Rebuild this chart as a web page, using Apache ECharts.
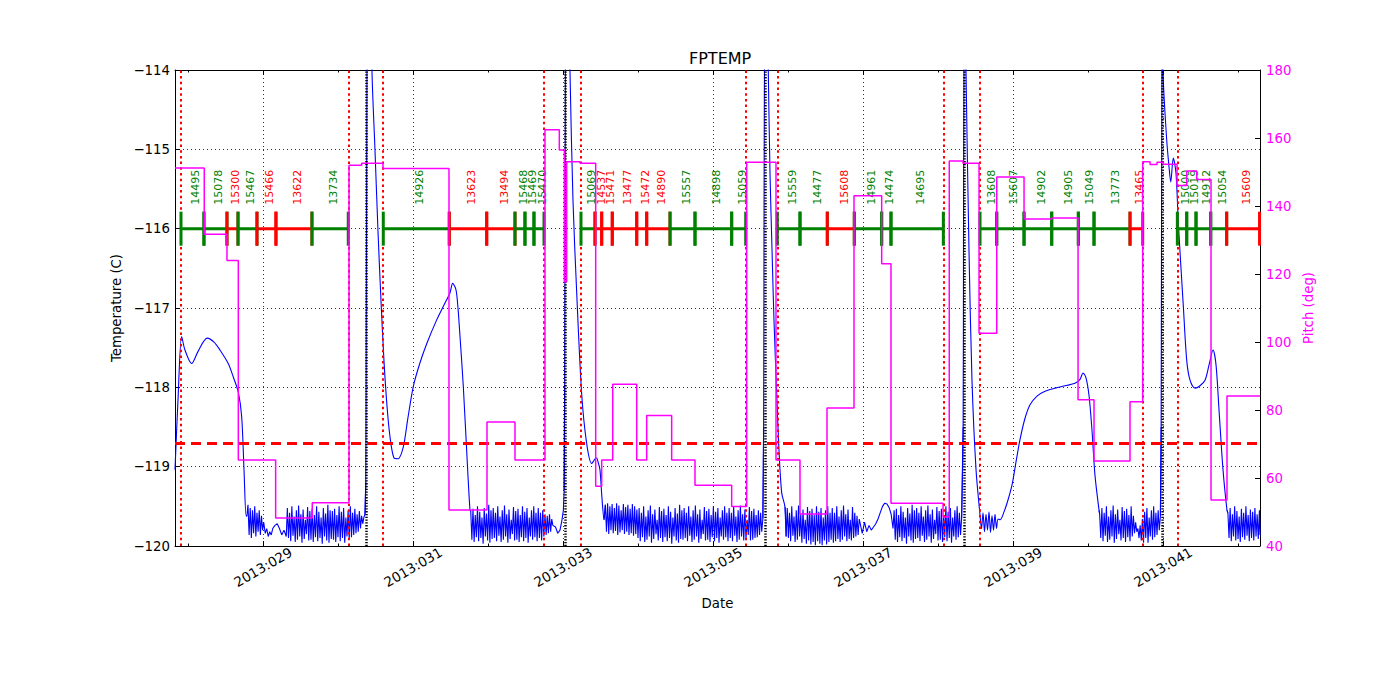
<!DOCTYPE html>
<html><head><meta charset="utf-8">
<script src="https://cdn.jsdelivr.net/npm/echarts@6/dist/echarts.min.js"></script>
<style>html,body{margin:0;padding:0;background:#fff}#c{width:1400px;height:700px}</style>
</head><body><div id="c"></div>
<script>
// ---------------- DATA ----------------
const X_MIN = 27.827, X_MAX = 42.293;          // day of year 2013
const majorDays = [29, 31, 33, 35, 37, 39, 41];
const minorDays = [28, 30, 32, 34, 36, 38, 40, 42];
const titleText = 'FPTEMP';
const limitTemp = -118.7;
const radzoneEdges = [27.907, 30.137, 30.604, 32.747, 33.24, 35.436, 35.857, 38.071, 38.56, 40.729, 41.191];
const perigeeTimes = [30.38, 33.027, 35.687, 38.347, 40.987];

const obsIds = [14495,15078,15300,15467,15466,13622,13734, 14926,13623,13494,15468,15469,15470,
  15069,14537,15471,13477,15472,14890,15557,14898,15059, 15559,14477,15608,14961,14474,14695,
  13608,15607,14902,14905,15049,13773,13465, 15000,15019,14912,15054,15609];
const obsStart = [27.907,28.213,28.52,28.667,28.92,29.173,29.653, 30.604,31.484,31.983,32.36,32.493,32.613,
  33.24,33.427,33.516,33.657,33.983,34.116,34.427,34.76,35.249, 35.857,36.16,36.524,36.884,37.249,37.373,
  38.56,38.783,39.147,39.516,39.871,40.08,40.56, 41.191,41.316,41.44,41.636,41.849];
const obsStop = [28.213,28.52,28.667,28.92,29.173,29.653,30.137, 31.484,31.983,32.36,32.493,32.613,32.747,
  33.427,33.516,33.657,33.983,34.116,34.427,34.76,35.249,35.436, 36.16,36.524,36.884,37.249,37.373,38.071,
  38.783,39.147,39.516,39.871,40.08,40.56,40.729, 41.316,41.44,41.636,41.849,42.287];
const obsState = ['G','G','R','G','R','R','G', 'G','R','R','G','G','G',
  'G','R','R','R','R','R','G','G','G', 'G','G','R','G','G','G',
  'G','G','G','G','G','G','R', 'G','G','G','G','R'];
const obsLineTemp = -116;
const obsLabelTemp = -115.70;

const pitchDays = [27.827,28.217,28.52,28.671,29.169,29.657,30.147,30.316,30.6,31.48,31.987,32.36,32.76,32.951,33.018,33.049,
  33.227,33.436,33.516,33.663,33.983,34.116,34.449,34.76,35.249,35.449,35.84,36.16,36.52,36.88,37.249,37.373,38.067,38.15,
  38.333,38.547,38.783,39.147,39.516,39.867,40.08,40.56,40.729,40.827,40.92,41.0,41.187,41.316,41.449,41.64,41.853,42.293];
const pitchDeg = [151.2,131.7,124,65.3,48.2,52.7,152,152.6,151,50.6,76.5,65.3,162.4,156.5,117.7,153,
  152.6,57.6,65.3,87.6,65.3,78.4,65.3,57.9,51.6,152.9,65.3,49.4,80.6,143,123,52.6,48.5,153.2,
  152.6,102.6,148.5,136.2,136.5,83,65,82.4,153,152.2,152.9,152.3,146,150.3,147.8,53.5,84.1,84.1];

const tempWarm0 = [[27.827,-119.04],[27.867,-118.16],[27.916,-117.36],[27.96,-117.53],[28.049,-117.70],[28.133,-117.55],
  [28.257,-117.38],[28.347,-117.43],[28.427,-117.53],[28.537,-117.70],[28.604,-117.87],[28.671,-118.06],[28.716,-118.37],
  [28.747,-119.04],[28.775,-119.62]];
const tempCold1 = [[28.785,-119.62],[28.80,-119.48],[28.815,-119.86],[28.83,-119.52],[28.845,-119.90],[28.86,-119.55],[28.875,-119.84],
  [28.89,-119.50],[28.905,-119.88],[28.92,-119.58],[28.935,-119.82],[28.95,-119.55],[28.965,-119.86],[28.98,-119.62],[28.995,-119.80],
  [29.01,-119.70],[29.03,-119.84],[29.05,-119.78],[29.07,-119.88],[29.09,-119.82],[29.11,-119.86],[29.13,-119.78],[29.16,-119.74],
  [29.19,-119.72],[29.22,-119.78],[29.25,-119.86],[29.28,-119.80],[29.31,-119.88],
  [29.325,-119.52],[29.34,-119.90],[29.355,-119.58],[29.37,-119.94],[29.385,-119.50],[29.40,-119.87],[29.415,-119.63],[29.43,-119.95],
  [29.445,-119.55],[29.46,-119.92],[29.475,-119.49],[29.49,-119.88],[29.505,-119.60],[29.52,-119.96],[29.535,-119.54],[29.55,-119.91],
  [29.565,-119.67],[29.58,-119.85],[29.595,-119.51],[29.61,-119.93],[29.625,-119.56],[29.64,-119.92],[29.655,-119.53],[29.67,-119.95],
  [29.685,-119.61],[29.70,-119.89],[29.715,-119.50],[29.73,-119.94],[29.745,-119.57],[29.76,-119.90],[29.775,-119.64],[29.79,-119.97],
  [29.805,-119.52],[29.82,-119.88],[29.835,-119.59],[29.85,-119.93],[29.865,-119.48],[29.88,-119.96],[29.895,-119.55],[29.91,-119.91],
  [29.925,-119.56],[29.94,-119.92],[29.955,-119.53],[29.97,-119.95],[29.985,-119.61],[30.00,-119.89],[30.015,-119.50],[30.03,-119.94],
  [30.045,-119.57],[30.06,-119.90],[30.075,-119.52],[30.09,-119.96],[30.105,-119.64],[30.12,-119.88],[30.135,-119.55],[30.15,-119.92],
  [30.165,-119.50],[30.18,-119.89],[30.195,-119.58],[30.21,-119.86],[30.225,-119.53],[30.24,-119.84],[30.255,-119.60],[30.27,-119.82],
  [30.285,-119.56],[30.30,-119.78],[30.315,-119.62],[30.33,-119.72],[30.345,-119.64],[30.36,-119.60]];
const tempWarm1 = [[30.37,-119.2],[30.376,-117.5],[30.382,-115.5],[30.388,-113.8],[30.40,-112.5],[30.44,-112.6],[30.453,-114.0],
  [30.493,-115.0],[30.533,-116.02],[30.573,-116.90],[30.613,-117.66],[30.653,-118.23],[30.693,-118.62],[30.747,-118.89],
  [30.80,-118.90],[30.871,-118.75],[30.93,-118.40],[31.004,-117.99],[31.09,-117.70],[31.183,-117.45],[31.316,-117.15],
  [31.42,-116.95],[31.493,-116.81],[31.529,-116.69],[31.573,-116.77],[31.60,-117.00],[31.627,-117.36],[31.671,-117.99],
  [31.729,-119.04],[31.76,-119.55]];
const tempCold2 = [[31.77,-119.56],[31.785,-119.92],[31.80,-119.53],[31.815,-119.95],[31.83,-119.61],[31.845,-119.89],[31.86,-119.50],
  [31.875,-119.94],[31.89,-119.57],[31.905,-119.90],[31.92,-119.64],[31.935,-119.97],[31.95,-119.52],[31.965,-119.88],[31.98,-119.59],
  [31.995,-119.93],[32.01,-119.48],[32.025,-119.96],[32.04,-119.55],[32.055,-119.91],[32.07,-119.52],[32.085,-119.90],[32.10,-119.58],
  [32.115,-119.94],[32.13,-119.50],[32.145,-119.87],[32.16,-119.63],[32.175,-119.95],[32.19,-119.55],[32.205,-119.92],[32.22,-119.49],
  [32.235,-119.88],[32.25,-119.60],[32.265,-119.96],[32.28,-119.54],[32.295,-119.91],[32.31,-119.67],[32.325,-119.85],[32.34,-119.51],
  [32.355,-119.93],[32.37,-119.56],[32.385,-119.92],[32.40,-119.53],[32.415,-119.95],[32.43,-119.61],[32.445,-119.89],[32.46,-119.50],
  [32.475,-119.94],[32.49,-119.57],[32.505,-119.90],[32.52,-119.52],[32.535,-119.96],[32.55,-119.64],[32.565,-119.88],[32.58,-119.55],
  [32.595,-119.92],[32.61,-119.50],[32.625,-119.89],[32.64,-119.58],[32.655,-119.94],[32.67,-119.52],[32.685,-119.90],[32.70,-119.58],
  [32.715,-119.93],[32.73,-119.55],[32.745,-119.88],[32.76,-119.60],[32.775,-119.86],[32.79,-119.62],[32.805,-119.84],[32.82,-119.60],
  [32.835,-119.82],[32.85,-119.66],[32.865,-119.74],[32.90,-119.76],[32.93,-119.84],[32.96,-119.80],[32.985,-119.68],[33.005,-119.55],
  [33.015,-119.30]];
const tempWarm2 = [[33.022,-118.0],[33.027,-116.0],[33.032,-114.0],[33.04,-112.8],[33.07,-112.6],[33.093,-114.0],[33.133,-115.64],
  [33.183,-116.81],[33.249,-118.08],[33.316,-118.71],[33.383,-118.96],[33.43,-118.90],[33.449,-118.89],[33.47,-118.95],
  [33.493,-119.04],[33.52,-119.40],[33.547,-119.67]];
const tempCold3 = [[33.565,-119.48],[33.58,-119.82],[33.595,-119.46],[33.61,-119.85],[33.625,-119.50],[33.64,-119.80],[33.655,-119.47],
  [33.67,-119.84],[33.685,-119.52],[33.70,-119.81],[33.715,-119.46],[33.73,-119.86],[33.745,-119.49],[33.76,-119.83],[33.775,-119.55],
  [33.79,-119.80],[33.805,-119.47],[33.82,-119.85],[33.835,-119.51],[33.85,-119.82],[33.865,-119.48],[33.88,-119.86],[33.895,-119.53],
  [33.91,-119.84],[33.925,-119.47],[33.94,-119.87],[33.955,-119.50],[33.97,-119.85],[33.985,-119.54],[34.00,-119.90],[34.015,-119.52],
  [34.03,-119.94],[34.045,-119.58],[34.06,-119.89],[34.075,-119.50],[34.09,-119.95],[34.105,-119.63],[34.12,-119.92],[34.135,-119.55],
  [34.15,-119.88],[34.165,-119.49],[34.18,-119.96],[34.195,-119.60],[34.21,-119.91],[34.225,-119.54],[34.24,-119.85],[34.255,-119.67],
  [34.27,-119.93],[34.285,-119.51],[34.30,-119.90],[34.315,-119.56],[34.33,-119.95],[34.345,-119.53],[34.36,-119.89],[34.375,-119.61],
  [34.39,-119.94],[34.405,-119.50],[34.42,-119.90],[34.435,-119.57],[34.45,-119.97],[34.465,-119.64],[34.48,-119.88],[34.495,-119.52],
  [34.51,-119.93],[34.525,-119.59],[34.54,-119.96],[34.555,-119.48],[34.57,-119.91],[34.585,-119.55],[34.60,-119.92],[34.615,-119.52],
  [34.63,-119.90],[34.645,-119.58],[34.66,-119.94],[34.675,-119.50],[34.69,-119.87],[34.705,-119.63],[34.72,-119.95],[34.735,-119.55],
  [34.75,-119.92],[34.765,-119.49],[34.78,-119.88],[34.795,-119.60],[34.81,-119.96],[34.825,-119.54],[34.84,-119.91],[34.855,-119.67],
  [34.87,-119.85],[34.885,-119.51],[34.90,-119.93],[34.915,-119.56],[34.93,-119.92],[34.945,-119.53],[34.96,-119.95],[34.975,-119.61],
  [34.99,-119.89],[35.005,-119.50],[35.02,-119.94],[35.035,-119.57],[35.05,-119.90],[35.065,-119.52],[35.08,-119.96],[35.095,-119.64],
  [35.11,-119.88],[35.125,-119.55],[35.14,-119.92],[35.155,-119.50],[35.17,-119.89],[35.185,-119.58],[35.20,-119.94],[35.215,-119.52],
  [35.23,-119.90],[35.245,-119.58],[35.26,-119.94],[35.275,-119.50],[35.29,-119.87],[35.305,-119.63],[35.32,-119.95],[35.335,-119.55],
  [35.35,-119.92],[35.365,-119.49],[35.38,-119.88],[35.395,-119.60],[35.41,-119.93],[35.425,-119.54],[35.44,-119.91],[35.455,-119.67],
  [35.47,-119.86],[35.485,-119.51],[35.50,-119.93],[35.515,-119.56],[35.53,-119.92],[35.545,-119.53],[35.56,-119.90],[35.575,-119.61],
  [35.59,-119.89],[35.605,-119.55],[35.62,-119.86],[35.635,-119.58],[35.65,-119.82],[35.665,-119.65]];
const tempWarm3 = [[35.675,-118.5],[35.68,-116.0],[35.686,-114.0],[35.695,-112.8],[35.72,-112.9],[35.737,-114.0],[35.76,-115.3],
  [35.787,-116.27],[35.813,-117.15],[35.849,-118.07],[35.88,-118.8],[35.916,-119.33],[35.96,-119.51]];
const tempCold4 = [[35.975,-119.88],[35.99,-119.52],[36.005,-119.90],[36.02,-119.58],[36.035,-119.94],[36.05,-119.50],[36.065,-119.87],
  [36.08,-119.63],[36.095,-119.95],[36.11,-119.55],[36.125,-119.92],[36.14,-119.49],[36.155,-119.88],[36.17,-119.60],[36.185,-119.96],
  [36.20,-119.54],[36.215,-119.91],[36.23,-119.67],[36.245,-119.97],[36.26,-119.51],[36.275,-119.93],[36.29,-119.56],[36.305,-119.98],
  [36.32,-119.53],[36.335,-119.95],[36.35,-119.61],[36.365,-119.99],[36.38,-119.50],[36.395,-119.94],[36.41,-119.57],[36.425,-119.97],
  [36.44,-119.52],[36.455,-119.99],[36.47,-119.64],[36.485,-119.93],[36.50,-119.55],[36.515,-119.98],[36.53,-119.50],[36.545,-119.95],
  [36.56,-119.58],[36.575,-119.92],[36.59,-119.52],[36.605,-119.96],[36.62,-119.58],[36.635,-119.94],[36.65,-119.50],[36.665,-119.91],
  [36.68,-119.63],[36.695,-119.95],[36.71,-119.55],[36.725,-119.92],[36.74,-119.49],[36.755,-119.88],[36.77,-119.60],[36.785,-119.94],
  [36.80,-119.54],[36.815,-119.91],[36.83,-119.67],[36.845,-119.93],[36.86,-119.51],[36.875,-119.90],[36.89,-119.58],[36.905,-119.88],
  [36.92,-119.62],[36.935,-119.86],[36.95,-119.66],[36.99,-119.84],[37.02,-119.70],[37.05,-119.82],[37.08,-119.74],[37.11,-119.80],
  [37.14,-119.76],[37.17,-119.72],[37.20,-119.66],[37.23,-119.58],[37.26,-119.50],[37.29,-119.46],[37.32,-119.47],[37.35,-119.52],
  [37.375,-119.60],[37.40,-119.78],[37.415,-119.55],[37.43,-119.92],[37.445,-119.53],[37.46,-119.95],[37.475,-119.61],[37.49,-119.89],
  [37.505,-119.50],[37.52,-119.94],[37.535,-119.57],[37.55,-119.90],[37.565,-119.64],[37.58,-119.97],[37.595,-119.52],[37.61,-119.88],
  [37.625,-119.59],[37.64,-119.93],[37.655,-119.48],[37.67,-119.96],[37.685,-119.55],[37.70,-119.91],[37.715,-119.52],[37.73,-119.90],
  [37.745,-119.58],[37.76,-119.94],[37.775,-119.50],[37.79,-119.87],[37.805,-119.63],[37.82,-119.95],[37.835,-119.55],[37.85,-119.92],
  [37.865,-119.49],[37.88,-119.88],[37.895,-119.60],[37.91,-119.96],[37.925,-119.54],[37.94,-119.91],[37.955,-119.67],[37.97,-119.85],
  [37.985,-119.51],[38.00,-119.93],[38.015,-119.56],[38.03,-119.92],[38.045,-119.53],[38.06,-119.95],[38.075,-119.61],[38.09,-119.89],
  [38.105,-119.50],[38.12,-119.94],[38.135,-119.57],[38.15,-119.90],[38.165,-119.52],[38.18,-119.96],[38.195,-119.64],[38.21,-119.88],
  [38.225,-119.55],[38.24,-119.92],[38.255,-119.50],[38.27,-119.89],[38.285,-119.58],[38.30,-119.86],[38.315,-119.65]];
const tempWarm4 = [[38.335,-118.5],[38.34,-116.0],[38.346,-114.0],[38.355,-112.8],[38.365,-113.2],[38.373,-114.0],[38.413,-116.27],
  [38.453,-117.91],[38.507,-119.04],[38.56,-119.61],[38.58,-119.78],[38.60,-119.58],[38.62,-119.82],[38.64,-119.60],[38.66,-119.80],
  [38.68,-119.57],[38.70,-119.83],[38.72,-119.62],[38.74,-119.80],[38.76,-119.60],[38.78,-119.78],[38.80,-119.66],[38.827,-119.67],
  [38.88,-119.57],[38.933,-119.42],[38.987,-119.23],[39.04,-118.94],[39.093,-118.66],[39.16,-118.39],[39.227,-118.22],[39.32,-118.11],
  [39.427,-118.05],[39.56,-118.01],[39.693,-117.98],[39.827,-117.95],[39.893,-117.90],[39.933,-117.82],[39.973,-117.88],
  [40.013,-118.10],[40.053,-118.54],[40.093,-119.11],[40.147,-119.55]];
const tempCold5 = [[40.155,-119.60],[40.17,-119.90],[40.185,-119.52],[40.20,-119.94],[40.215,-119.58],[40.23,-119.87],[40.245,-119.50],
  [40.26,-119.95],[40.275,-119.63],[40.29,-119.92],[40.305,-119.55],[40.32,-119.88],[40.335,-119.49],[40.35,-119.96],[40.365,-119.60],
  [40.38,-119.91],[40.395,-119.54],[40.41,-119.85],[40.425,-119.67],[40.44,-119.93],[40.455,-119.51],[40.47,-119.90],[40.485,-119.56],
  [40.50,-119.95],[40.515,-119.53],[40.53,-119.89],[40.545,-119.61],[40.56,-119.94],[40.575,-119.50],[40.59,-119.88],[40.605,-119.62],
  [40.62,-119.84],[40.635,-119.70],[40.65,-119.82],[40.665,-119.78],[40.68,-119.90],[40.695,-119.74],[40.71,-119.93],[40.725,-119.66],
  [40.74,-119.96],[40.755,-119.57],[40.77,-119.90],[40.785,-119.52],[40.80,-119.96],[40.815,-119.64],[40.83,-119.88],[40.845,-119.55],
  [40.86,-119.92],[40.875,-119.50],[40.89,-119.89],[40.905,-119.58],[40.92,-119.86],[40.935,-119.55],[40.95,-119.80],[40.965,-119.62]];
const tempWarm5 = [[40.975,-118.5],[40.98,-116.0],[40.986,-114.0],[40.99,-112.8],[40.995,-113.0],[41.0,-114.0],[41.049,-114.88],
  [41.08,-115.22],[41.103,-115.41],[41.137,-115.11],[41.173,-115.30],[41.204,-115.93],[41.271,-116.98],[41.316,-117.66],
  [41.36,-117.91],[41.427,-118.01],[41.493,-117.98],[41.56,-117.91],[41.613,-117.72],[41.667,-117.53],[41.707,-117.72],
  [41.747,-118.29],[41.80,-119.04],[41.853,-119.55]];
const tempCold6 = [[41.865,-119.58],[41.88,-119.90],[41.895,-119.52],[41.91,-119.94],[41.925,-119.60],[41.94,-119.88],[41.955,-119.50],
  [41.97,-119.93],[41.985,-119.56],[42.00,-119.91],[42.015,-119.63],[42.03,-119.95],[42.045,-119.53],[42.06,-119.89],[42.075,-119.58],
  [42.09,-119.92],[42.105,-119.50],[42.12,-119.87],[42.135,-119.61],[42.15,-119.94],[42.165,-119.54],[42.18,-119.90],[42.195,-119.57],
  [42.21,-119.93],[42.225,-119.52],[42.24,-119.88],[42.255,-119.60],[42.27,-119.91],[42.285,-119.55],[42.293,-119.86]];

// ---------------- CHART ----------------
const FONT = 'DejaVu Sans';
const GREEN = '#008000', RED = '#ff0000', BLUE = '#0000ff', MAGENTA = '#ff00ff';
const tempSegments = [tempWarm0, tempCold1, tempWarm1, tempCold2, tempWarm2, tempCold3, tempWarm3,
  tempCold4, tempWarm4, tempCold5, tempWarm5, tempCold6];
const pitchData = pitchDays.map((d, i) => [d, pitchDeg[i]]);
const tickLabel = v => '2013:' + String(Math.round(v)).padStart(3, '0');
const minusFmt = v => (v < 0 ? '\u2212' : '') + Math.abs(v);

const gridLine = {show: true, lineStyle: {color: '#000', width: 0.8, type: [1, 3]}};
const spine = {show: true, onZero: false, lineStyle: {color: '#000', width: 1}};

const xBase = {type: 'value', min: X_MIN, max: X_MAX, gridIndex: 0};
const xAxes = [
  Object.assign({}, xBase, {position: 'bottom', axisLine: spine,
    axisTick: {show: true, inside: true, length: 5, customValues: majorDays, lineStyle: {color: '#000'}},
    axisLabel: {show: true, customValues: majorDays, formatter: tickLabel, rotate: 30, align: 'center',
      verticalAlign: 'middle', margin: 21, fontSize: 13.5, color: '#000', fontFamily: FONT},
    splitLine: gridLine,
    name: 'Date', nameLocation: 'middle', nameGap: 51,
    nameTextStyle: {fontSize: 13.3, color: '#000', fontFamily: FONT, verticalAlign: 'top'}}),
  Object.assign({}, xBase, {position: 'bottom', axisLine: {show: false},
    axisTick: {show: true, inside: true, length: 2.5, customValues: minorDays, lineStyle: {color: '#000'}},
    axisLabel: {show: false}, splitLine: {show: false}}),
  Object.assign({}, xBase, {position: 'top', axisLine: spine,
    axisTick: {show: true, inside: true, length: 5, customValues: majorDays, lineStyle: {color: '#000'}},
    axisLabel: {show: false}, splitLine: {show: false}}),
  Object.assign({}, xBase, {position: 'top', axisLine: {show: false},
    axisTick: {show: true, inside: true, length: 2.5, customValues: minorDays, lineStyle: {color: '#000'}},
    axisLabel: {show: false}, splitLine: {show: false}})
];

const series = [];
function refLines(lineStyle, data) {
  return {type: 'line', data: [], xAxisIndex: 0, yAxisIndex: 0, silent: true, z: 3,
    markLine: {silent: true, symbol: ['none', 'none'], label: {show: false}, animation: false, lineStyle: lineStyle, data: data}};
}
series.push(refLines({color: RED, width: 2, type: [2.5, 3.2]}, radzoneEdges.map(x => ({xAxis: x}))));
series.push(refLines({color: '#000', width: 2.5, type: [1.3, 1.5]}, perigeeTimes.map(x => ({xAxis: x}))));
series.push(refLines({color: RED, width: 3, type: [10, 6]}, [{yAxis: limitTemp}]));

// temperature: warm stretches smoothed, cold stretches raw; neighbours joined
tempSegments.forEach((seg, k) => {
  const data = [];
  if (k > 0) { const p = tempSegments[k - 1]; data.push(p[p.length - 1]); }
  seg.forEach(pt => data.push(pt));
  if (k < tempSegments.length - 1) data.push(tempSegments[k + 1][0]);
  const warm = (k % 2 === 0);
  series.push({
    type: 'line', data: data, xAxisIndex: 0, yAxisIndex: 0,
    showSymbol: false, symbol: 'none', smooth: warm ? 0.3 : false,
    lineStyle: {color: BLUE, width: 1.1}, itemStyle: {color: BLUE},
    clip: true, silent: true, z: 4
  });
});

// observation segments
obsIds.forEach((id, i) => {
  const c = obsState[i] === 'G' ? GREEN : RED;
  series.push({
    type: 'line', data: [[obsStart[i], obsLineTemp], [obsStop[i], obsLineTemp]],
    xAxisIndex: 0, yAxisIndex: 0, symbol: 'rect', symbolSize: [3, 34], showSymbol: true,
    lineStyle: {color: c, width: 3}, itemStyle: {color: c}, silent: true, z: 5
  });
});
// observation labels
series.push({
  type: 'custom', xAxisIndex: 0, yAxisIndex: 0, silent: true, z: 6,
  data: obsIds.map((id, i) => [(obsStart[i] + obsStop[i]) / 2, obsLabelTemp]),
  renderItem: function (params, api) {
    const i = params.dataIndex;
    const p = api.coord([api.value(0), api.value(1)]);
    return {
      type: 'text', x: p[0] + 3.5, y: p[1], rotation: Math.PI / 2,
      style: {text: String(obsIds[i]), fill: obsState[i] === 'G' ? GREEN : RED,
        font: '11px "DejaVu Sans"', align: 'left', verticalAlign: 'middle'}
    };
  }
});
// pitch
series.push({
  type: 'line', name: 'Pitch', data: pitchData, xAxisIndex: 0, yAxisIndex: 1, step: 'end',
  showSymbol: false, symbol: 'none', lineStyle: {color: MAGENTA, width: 1.5}, silent: true, z: 10
});

const option = {
  animation: false,
  textStyle: {fontFamily: FONT},
  title: {text: titleText, left: 684, top: 45,
    textStyle: {fontSize: 16, fontWeight: 'normal', color: '#000', fontFamily: FONT}},
  grid: {left: 175, right: 140, top: 70, bottom: 154, containLabel: false},
  xAxis: xAxes,
  yAxis: [
    {type: 'value', position: 'left', min: -120, max: -114, interval: 1, axisLine: spine,
      axisTick: {show: true, inside: true, length: 5, lineStyle: {color: '#000'}},
      axisLabel: {formatter: minusFmt, fontSize: 13.3, color: '#000', margin: 5, fontFamily: FONT},
      splitLine: gridLine,
      name: 'Temperature (C)', nameLocation: 'middle', nameGap: 50,
      nameTextStyle: {fontSize: 13.3, color: '#000', fontFamily: FONT}},
    {type: 'value', position: 'right', min: 40, max: 180, interval: 20, axisLine: spine,
      axisTick: {show: true, inside: true, length: 5, lineStyle: {color: '#000'}},
      axisLabel: {fontSize: 13.3, color: MAGENTA, margin: 6, fontFamily: FONT},
      splitLine: {show: false},
      name: 'Pitch (deg)', nameLocation: 'middle', nameGap: 32,
      nameTextStyle: {fontSize: 13.3, color: MAGENTA, fontFamily: FONT}}
  ],
  series: series
};

const chart = echarts.init(document.getElementById('c'), null, {renderer: 'svg', width: 1400, height: 700});
chart.setOption(option);
</script></body></html>
